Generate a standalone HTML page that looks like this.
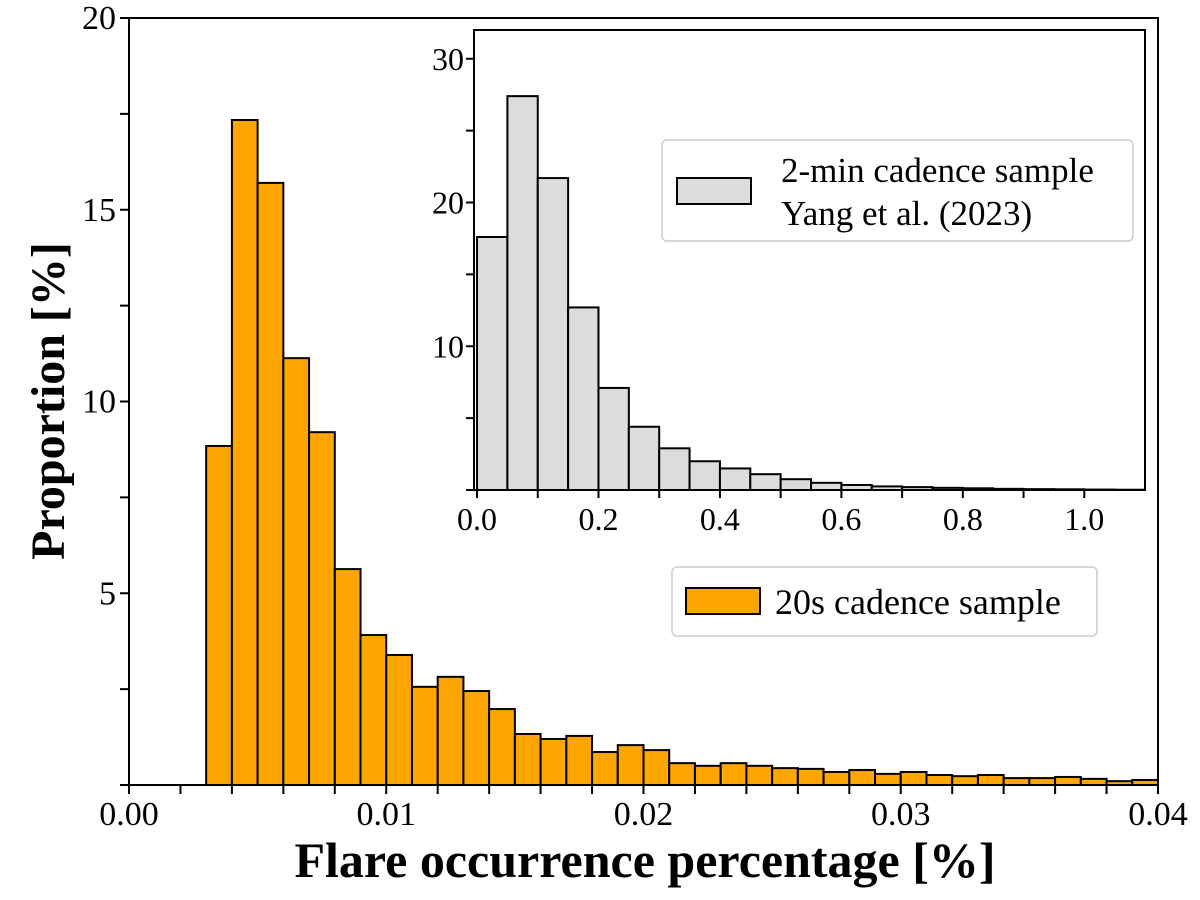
<!DOCTYPE html>
<html><head><meta charset="utf-8"><style>
body{margin:0;background:#fff}
svg text{font-family:"Liberation Serif",serif;fill:#000}
</style></head><body>
<svg id="chart" width="1200" height="895" xmlns="http://www.w3.org/2000/svg">
<g id="main"></g>
<g id="inset"></g>
<text x="645" y="877" font-size="50" font-weight="bold" text-anchor="middle">Flare occurrence percentage [%]</text>
<text transform="translate(64,401) rotate(-90)" font-size="48" font-weight="bold" text-anchor="middle">Proportion [%]</text>
</svg>
<script>
const mainBinStart = 0.003;
const mainBinWidth = 0.001;
const mainValues = [8.84,17.34,15.7,11.13,9.2,5.63,3.91,3.39,2.56,2.82,2.45,1.98,1.33,1.2,1.28,0.86,1.04,0.91,0.57,0.5,0.57,0.5,0.44,0.42,0.34,0.39,0.29,0.34,0.26,0.23,0.26,0.18,0.18,0.21,0.16,0.1,0.13];
const mainXTickLabels = ["0.00","0.01","0.02","0.03","0.04"];
const mainYTickLabels = ["5","10","15","20"];
const insetBinStart = 0.0;
const insetBinWidth = 0.05;
const insetValues = [17.6,27.4,21.7,12.7,7.1,4.4,2.9,2.0,1.5,1.1,0.75,0.5,0.35,0.25,0.2,0.15,0.12,0.08,0.06,0.05,0.03,0.02];
const insetXTickLabels = ["0.0","0.2","0.4","0.6","0.8","1.0"];
const insetYTickLabels = ["10","20","30"];

const NS="http://www.w3.org/2000/svg";
function mk(parent,tag,attrs,text){const e=document.createElementNS(NS,tag);for(const k in attrs)e.setAttribute(k,attrs[k]);if(text!==undefined)e.textContent=text;parent.appendChild(e);return e;}

const M={l:129,r:1158,t:18,b:785,x0:0,x1:0.04,y0:0,y1:20};
const mx=v=>M.l+(v-M.x0)/(M.x1-M.x0)*(M.r-M.l);
const my=v=>M.b-(v-M.y0)/(M.y1-M.y0)*(M.b-M.t);
const gm=document.getElementById('main');
mainValues.forEach((v,i)=>{
  const x0=mx(mainBinStart+i*mainBinWidth),x1=mx(mainBinStart+(i+1)*mainBinWidth);
  const r=mk(gm,'rect',{x:x0,y:my(v),width:x1-x0,height:my(0)-my(v),fill:'#FFA500',stroke:'#000','stroke-width':2});
  
  
});
mk(gm,'rect',{x:M.l,y:M.t,width:M.r-M.l,height:M.b-M.t,fill:'none',stroke:'#000','stroke-width':2});
for(let k=0;k<=20;k++){const x=mx(k*0.002);mk(gm,'line',{x1:x,x2:x,y1:M.b,y2:M.b+9,stroke:'#000','stroke-width':2});}
mainXTickLabels.forEach(s=>{const t=mk(gm,'text',{x:mx(parseFloat(s)),y:M.b+40,'font-size':34,'text-anchor':'middle'},s);});
for(let k=0;k<=8;k++){const y=my(k*2.5);mk(gm,'line',{x1:M.l-9,x2:M.l,y1:y,y2:y,stroke:'#000','stroke-width':2});}
mainYTickLabels.forEach(s=>{const t=mk(gm,'text',{x:M.l-13,y:my(parseFloat(s))+11,'font-size':34,'text-anchor':'end'},s);});
const lg=mk(gm,'g',{});


mk(lg,'rect',{x:672,y:567,width:425,height:69,rx:5,fill:'#fff',stroke:'#ccc','stroke-width':1.5});
mk(lg,'rect',{x:686,y:588,width:74,height:26,fill:'#FFA500',stroke:'#000','stroke-width':2});
mk(lg,'text',{x:775,y:614,'font-size':36},'20s cadence sample');

const I={l:474,r:1145,t:30,b:490,x0:-0.005,x1:1.1,y0:0,y1:32};
const ix=v=>I.l+(v-I.x0)/(I.x1-I.x0)*(I.r-I.l);
const iy=v=>I.b-(v-I.y0)/(I.y1-I.y0)*(I.b-I.t);
const gi=document.getElementById('inset');
mk(gi,'rect',{x:I.l,y:I.t,width:I.r-I.l,height:I.b-I.t,fill:'#fff'});
insetValues.forEach((v,i)=>{
  const x0=ix(insetBinStart+i*insetBinWidth),x1=ix(insetBinStart+(i+1)*insetBinWidth);
  const r=mk(gi,'rect',{x:x0,y:iy(v),width:x1-x0,height:iy(0)-iy(v),fill:'#DCDCDC',stroke:'#000','stroke-width':2});
  
  
});
mk(gi,'rect',{x:I.l,y:I.t,width:I.r-I.l,height:I.b-I.t,fill:'none',stroke:'#000','stroke-width':2});
for(let k=0;k<=10;k++){const x=ix(k*0.1);mk(gi,'line',{x1:x,x2:x,y1:I.b,y2:I.b+8,stroke:'#000','stroke-width':2});}
insetXTickLabels.forEach(s=>{const t=mk(gi,'text',{x:ix(parseFloat(s)),y:I.b+40,'font-size':32,'text-anchor':'middle'},s);});
for(let k=0;k<=6;k++){const y=iy(k*5);mk(gi,'line',{x1:I.l-8,x2:I.l,y1:y,y2:y,stroke:'#000','stroke-width':2});}
insetYTickLabels.forEach(s=>{const t=mk(gi,'text',{x:I.l-10,y:iy(parseFloat(s))+11,'font-size':32,'text-anchor':'end'},s);});
const il=mk(gi,'g',{});


mk(il,'rect',{x:662,y:140,width:471,height:101,rx:5,fill:'#fff',stroke:'#ccc','stroke-width':1.5});
mk(il,'rect',{x:677,y:178,width:74,height:26,fill:'#DCDCDC',stroke:'#000','stroke-width':2});
mk(il,'text',{x:781,y:182,'font-size':35},'2-min cadence sample');
mk(il,'text',{x:781,y:225,'font-size':35},'Yang et al. (2023)');
</script>
</body></html>
